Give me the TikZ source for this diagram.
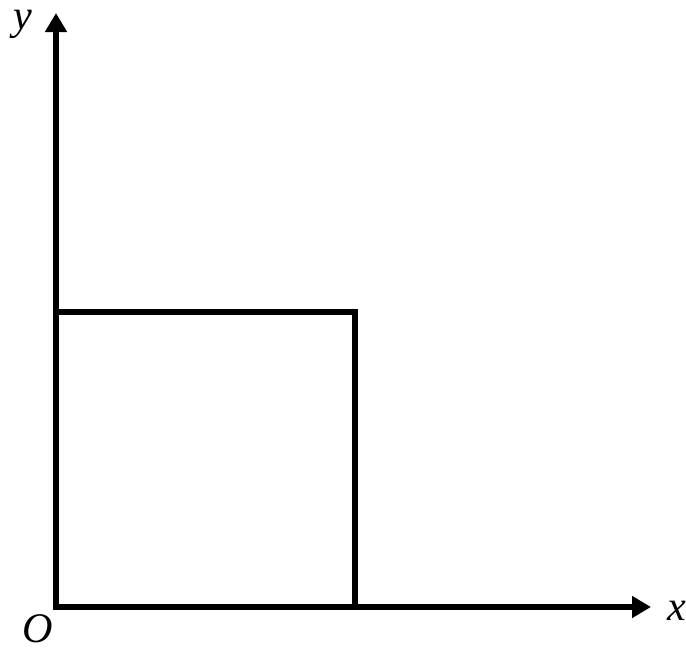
\documentclass[tikz,border=0pt]{standalone}
\usepackage{fontspec}
\setmainfont{Liberation Serif}
\usetikzlibrary{arrows.meta,positioning}

\begin{document}
\begin{tikzpicture}[x=0.02cm,y=-0.02cm, every node/.style={font=\fontsize{24}{29}\selectfont\itshape, inner sep=0pt},
    axis/.style={line width=3.1pt, -{Triangle[length=0.38cm,width=0.42cm]}},
    box/.style={line width=2.9pt}]
    \useasboundingbox (0,0) rectangle (686,647);
    \coordinate (origin) at (56,607);
    \coordinate (xend) at (651,607);
    \coordinate (yend) at (56,13);
    \coordinate (corner) at (355,312);
    \draw[box] (origin) rectangle (corner);
    \draw[axis] (origin) -- (xend);
    \draw[axis] (origin) -- (yend);
    \node[anchor=base] (labx) at (677,620) {x};
    \node[anchor=base] (laby) at (23,29) {y};
    \node[anchor=base] (labo) at (38,642) {O};
  \end{tikzpicture}
\end{document}
